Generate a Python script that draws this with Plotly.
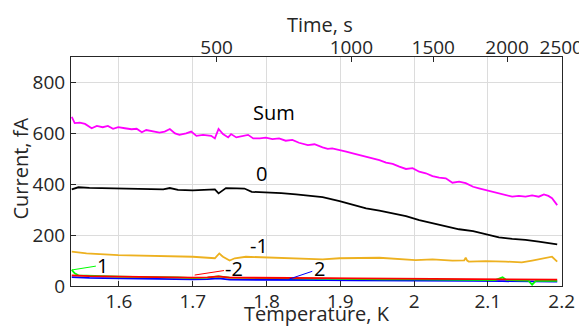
import plotly.graph_objects as go

# ---------------- data ----------------
T_sum = [1.536,1.540,1.547,1.554,1.563,1.570,1.578,1.585,1.592,1.599,1.608,1.617,1.624,1.631,1.637,1.646,
         1.655,1.662,1.669,1.676,1.682,1.691,1.698,1.705,1.714,1.725,1.730,1.735,1.741,1.748,1.752,1.759,
         1.768,1.775,1.782,1.791,1.799,1.808,1.817,1.826,1.835,1.844,1.856,1.865,1.876,1.883,1.889,1.899,
         1.908,1.917,1.926,1.935,1.944,1.953,1.962,1.971,1.980,1.989,1.998,2.007,2.016,2.025,2.034,2.043,
         2.052,2.061,2.070,2.080,2.088,2.097,2.106,2.115,2.124,2.133,2.142,2.151,2.160,2.169,2.176,2.182,
         2.187,2.194]
I_sum = [665,640,642,637,620,629,624,629,618,624,620,616,618,604,613,607,
         603,607,617,600,594,600,607,590,594,590,580,617,597,584,597,584,
         590,594,580,580,583,577,580,571,574,563,554,557,545,539,541,535,
         528,521,515,506,502,495,485,480,469,460,463,449,443,432,426,423,
         406,410,404,390,384,377,371,364,358,351,354,351,356,351,360,354,
         345,318]

T_0 = [1.536,1.545,1.56,1.58,1.60,1.62,1.64,1.66,1.669,1.68,1.70,1.72,1.73,1.735,1.74,1.745,1.76,1.77,
       1.78,1.80,1.82,1.84,1.86,1.876,1.899,1.917,1.935,1.953,1.971,1.989,2.007,2.025,2.043,2.061,
       2.080,2.097,2.115,2.133,2.151,2.169,2.187,2.194]
I_0 = [380,388,386,385,384,383,381,380,385,378,376,377,380,364,375,385,384,383,
       370,368,365,360,354,349,334,318,305,296,286,275,259,246,233,223,
       216,203,191,185,181,174,168,164]

T_m1 = [1.536,1.556,1.599,1.655,1.700,1.730,1.733,1.736,1.739,1.741,1.750,1.757,1.772,1.799,1.835,1.876,
        1.899,1.953,2.002,2.025,2.052,2.068,2.070,2.072,2.074,2.097,2.124,2.146,2.160,2.175,2.187,2.194]
I_m1 = [135,128,121,118,115,109,118,128,120,115,100,109,115,113,109,105,
        109,111,102,105,100,101,111,100,96,98,96,93,100,109,115,96]

T_1 = [1.536,1.540,1.545,1.56,1.58,1.60,1.62,1.64,1.66,1.68,1.70,1.72,1.735,1.75,1.78,1.80,1.84,1.88,
       1.92,1.96,2.00,2.04,2.08,2.11,2.12,2.125,2.14,2.155,2.16,2.165,2.18,2.194]
I_1 = [63,50,42,40,38,37,36,36,35,34,31,33,38,33,32,31,30,28,
       27,26,26,25,24,23,34,24,22,21,5,20,21,20]

T_pm2 = [1.536,1.545,1.56,1.58,1.60,1.62,1.64,1.66,1.68,1.70,1.72,1.735,1.75,1.78,1.80,1.84,1.88,1.92,
         1.96,2.00,2.04,2.08,2.12,2.16,2.194]
I_m2 = [42,40,39,38,37,37,36,35,34,33,34,38,33,33,32,32,31,30,29,30,28,27,27,26,25]
I_2 = [35,33,32,31,30,30,29,28,27,26,27,30,25,25,24,24,23,22,22,21,20,20,19,18,17]

time_tick_labels = ["500", "1000", "1500", "2000", "2500"]
time_tick_temps = [1.7324, 1.915, 2.026, 2.126, 2.1995]

x_ticks = [1.6, 1.7, 1.8, 1.9, 2.0, 2.1, 2.2]
x_tick_labels = ["1.6", "1.7", "1.8", "1.9", "2", "2.1", "2.2"]
y_ticks = [0, 200, 400, 600, 800]

# ---------------- figure ----------------
FONT = "Open Sans"
TXT = "#262626"
fig = go.Figure()

series = [
    (T_sum, I_sum, "#FF00FF", "Sum"),
    (T_0, I_0, "#000000", "0"),
    (T_m1, I_m1, "#EDB120", "-1"),
    (T_pm2, I_2, "#0000FF", "2"),
    (T_1, I_1, "#00FF00", "1"),
    (T_pm2, I_m2, "#FF0000", "-2"),
]
for xs, ys, col, name in series:
    fig.add_trace(go.Scatter(x=xs, y=ys, mode="lines", name=name,
                             line=dict(color=col, width=1.8), showlegend=False))

# invisible trace to activate the top axis
fig.add_trace(go.Scatter(x=[T_sum[0]], y=[I_sum[0]], xaxis="x2", mode="markers",
                         marker=dict(opacity=0), showlegend=False, hoverinfo="skip"))

plain = [("Sum", 1.8107, 680), ("0", 1.793, 444), ("-1", 1.790, 161)]
for txt, x, y in plain:
    fig.add_annotation(x=x, y=y, text=txt, showarrow=False,
                       font=dict(family=FONT, size=20, color="#000000"))

leaders = [("1", 1.536, 63, 1.5782, 82.5, "#00FF00"),
           ("-2", 1.7026, 43, 1.7566, 67, "#FF0000"),
           ("2", 1.831, 27.5, 1.8715, 67, "#0000FF")]
for txt, x, y, ax, ay, col in leaders:
    fig.add_annotation(x=x, y=y, ax=ax, ay=ay, axref="x", ayref="y", text=txt,
                       showarrow=True, arrowhead=0, arrowwidth=1, arrowcolor=col,
                       font=dict(family=FONT, size=20, color="#000000"))

# axis titles
titles = [("Time, s", 0.507, 1.144, 0), ("Temperature, K", 0.501, -0.121, 0),
          ("Current, fA", -0.103, 0.515, -90)]
for txt, x, y, ang in titles:
    fig.add_annotation(x=x, y=y, xref="paper", yref="paper", text=txt, showarrow=False,
                       textangle=ang, xanchor="center", yanchor="middle",
                       font=dict(family=FONT, size=20, color=TXT))

xr = [1.535, 2.2005]
# page body has an 8px margin, so the figure is drawn 8px smaller
fig.update_layout(
    width=579, height=321,
    margin=dict(l=63, r=25, t=49, b=43),
    paper_bgcolor="white", plot_bgcolor="white",
    font=dict(family=FONT, size=19, color=TXT),
    xaxis=dict(range=xr, tickvals=x_ticks, ticktext=x_tick_labels, automargin=False,
               ticks="inside", ticklen=5, tickcolor=TXT, showline=True, linecolor=TXT, linewidth=1,
               mirror=True, showgrid=True, gridcolor="#dcdcdc", gridwidth=1, zeroline=False,
               ticklabelstandoff=-2, tickfont=dict(size=19)),
    xaxis2=dict(range=xr, overlaying="x", side="top", tickvals=time_tick_temps, automargin=False,
                ticktext=time_tick_labels, ticks="inside", ticklen=5, tickcolor=TXT,
                showline=True, linecolor=TXT, showgrid=False, zeroline=False,
                ticklabelstandoff=-6, tickfont=dict(size=19)),
    yaxis=dict(range=[0, 900], tickvals=y_ticks, automargin=False,
               ticks="inside", ticklen=5, tickcolor=TXT,
               showline=True, linecolor=TXT, linewidth=1, mirror=True, showgrid=True,
               gridcolor="#dcdcdc", gridwidth=1, zeroline=False,
               ticklabelstandoff=1, tickfont=dict(size=19)),
)

fig.write_html("out.html")
